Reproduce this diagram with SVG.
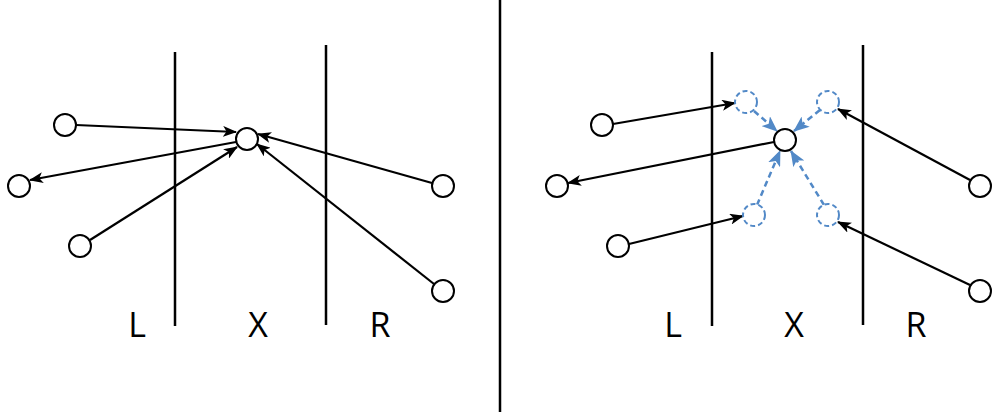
<svg xmlns="http://www.w3.org/2000/svg" width="992" height="412" viewBox="0 0 992 412">
<style>
.n{fill:#fff;stroke:#000;stroke-width:2}
.d{fill:#fff;stroke:#5289c7;stroke-width:2;stroke-dasharray:5 3}
.e{stroke:#000;stroke-width:2.2;fill:none;marker-end:url(#ak)}
.b{stroke:#5289c7;stroke-width:2.5;fill:none;stroke-dasharray:6 4;marker-end:url(#ab)}
.w{stroke:#000;stroke-width:2.5;fill:none}
.t{font-family:"Open Sans","Noto Sans",sans-serif;font-size:34px;fill:#000;text-anchor:middle}
</style>
<defs>
<marker id="ak" markerWidth="14" markerHeight="11" refX="13" refY="5.5" orient="auto" markerUnits="userSpaceOnUse" viewBox="0 0 14 11">
<path d="M0,0 L14,5.5 L0,11 L3.5,5.5 Z" fill="#000"/>
</marker>
<marker id="ab" markerWidth="16" markerHeight="13" refX="15" refY="6.5" orient="auto" markerUnits="userSpaceOnUse" viewBox="0 0 16 13">
<path d="M0,0 L16,6.5 L0,13 L4,6.5 Z" fill="#5289c7"/>
</marker>
</defs>
<g id="walls">
<line class="w" x1="175" y1="52" x2="175" y2="326"/>
<line class="w" x1="326" y1="45" x2="326" y2="325"/>
<line class="w" x1="500" y1="0" x2="500" y2="412"/>
<line class="w" x1="712" y1="52" x2="712" y2="326"/>
<line class="w" x1="863" y1="45" x2="863" y2="325"/>
</g>
<g id="connectors">
<line class="e" x1="76" y1="125" x2="236" y2="132"/>
<line class="e" x1="236" y1="142" x2="30" y2="180"/>
<line class="e" x1="90" y1="240" x2="237" y2="147"/>
<line class="e" x1="432" y1="183" x2="258" y2="134"/>
<line class="e" x1="434" y1="284" x2="257" y2="144"/>
<line class="e" x1="613" y1="124" x2="735" y2="103"/>
<line class="e" x1="774" y1="142" x2="568" y2="183"/>
<line class="e" x1="629" y1="244" x2="743" y2="216"/>
<line class="e" x1="970" y1="180" x2="838" y2="109"/>
<line class="e" x1="970" y1="285" x2="838" y2="222"/>
<line class="b" x1="754" y1="111" x2="777" y2="131"/>
<line class="b" x1="820" y1="110" x2="794" y2="131"/>
<line class="b" x1="757" y1="205" x2="780" y2="151"/>
<line class="b" x1="824" y1="205" x2="791" y2="151"/>
</g>
<g id="nodeL1"><circle class="n" cx="65" cy="125" r="11"/></g>
<g id="nodeL2"><circle class="n" cx="19" cy="186" r="11"/></g>
<g id="nodeL3"><circle class="n" cx="80" cy="246" r="11"/></g>
<g id="nodeLX"><circle class="n" cx="247" cy="139" r="11"/></g>
<g id="nodeL4"><circle class="n" cx="443" cy="186" r="11"/></g>
<g id="nodeL5"><circle class="n" cx="443" cy="291" r="11"/></g>
<g id="nodeR1"><circle class="n" cx="602" cy="125" r="11"/></g>
<g id="nodeR2"><circle class="n" cx="557" cy="186" r="11"/></g>
<g id="nodeR3"><circle class="n" cx="618" cy="246" r="11"/></g>
<g id="nodeRX"><circle class="n" cx="785" cy="140" r="11"/></g>
<g id="nodeR4"><circle class="n" cx="980" cy="186" r="11"/></g>
<g id="nodeR5"><circle class="n" cx="980" cy="291" r="11"/></g>
<g id="ghost1"><circle class="d" cx="746" cy="102" r="11"/></g>
<g id="ghost2"><circle class="d" cx="828" cy="102" r="11"/></g>
<g id="ghost3"><circle class="d" cx="754" cy="215" r="11"/></g>
<g id="ghost4"><circle class="d" cx="828" cy="215" r="11"/></g>
<g id="labels">
<text class="t" x="137" y="337">L</text>
<text class="t" x="258" y="337">X</text>
<text class="t" x="380" y="337">R</text>
<text class="t" x="673" y="337">L</text>
<text class="t" x="794" y="337">X</text>
<text class="t" x="916" y="337">R</text>
</g>
</svg>
